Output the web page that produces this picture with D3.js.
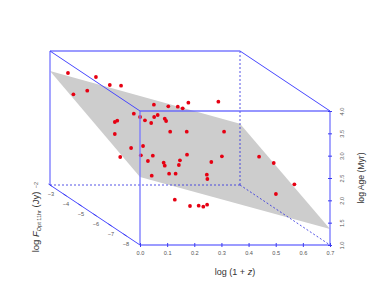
<!DOCTYPE html>
<html><head><meta charset="utf-8">
<script src="https://cdn.jsdelivr.net/npm/d3@7"></script>
<style>html,body{margin:0;padding:0;background:#fff}svg{display:block}text{font-family:"Liberation Sans",Arial,sans-serif}</style>
</head><body><svg id="c" width="374" height="307"></svg>
<script>
const redshiftTicks=[0,0.1,0.2,0.3,0.4,0.5,0.6,0.7];
const ageTicks=[1,1.5,2,2.5,3,3.5,4];
const fluxTicks=[-3,-4,-5,-6,-7,-8];
const planeRedshift=[0,0.7,0.7,0];
const planeFlux=[-3,-3,-9,-9];
const planeAge=[3.55,2.37,1.36,2.52];
const ptRedshift=[.011,.114,.165,.031,.082,.096,.217,.270,.305,.323,.344,.143,.166,.184,.207,.218,.231,.257,.262,.082,.073,.073,.277,.338,.133,.177,.169,.213,.093,.195,.253,.257,.313,.309,.339,.209,.273,.297,.412,.414,.294,.350,.382,.399,.413,.344,.365,.357,.318,.494,.548,.624,.556];
const ptAge=[3.731,3.642,3.463,3.254,3.335,3.895,3.469,3.434,3.425,3.389,3.514,3.268,3.194,3.120,3.060,3.194,3.239,3.156,3.104,3.111,3.082,2.813,2.865,2.865,2.500,2.545,2.337,2.328,2.299,2.209,2.171,2.104,2.225,2.119,2.350,1.880,1.925,1.925,1.902,1.806,1.343,1.201,1.208,1.186,1.231,3.984,3.313,2.762,2.634,2.753,2.612,2.135,1.918];
const ptFlux=[-4,-4,-4,-4,-4,-6,-6,-6,-6,-6,-6,-6,-6,-6,-6,-6,-6,-6,-6,-6,-6,-6,-6,-6,-6,-6,-6,-6,-6,-6,-6,-6,-6,-6,-6,-6,-6,-6,-6,-6,-6,-6,-6,-6,-6,-8,-8,-8,-8,-8,-8,-8,-8];

const svg=d3.select("#c");
const xS=d3.scaleLinear().domain([0,0.7]).range([140,330]);
const yS=d3.scaleLinear().domain([1,4]).range([245,111]);
const dx=d3.scaleLinear().domain([-9,-3]).range([0,-90]);
const dy=d3.scaleLinear().domain([-9,-3]).range([0,-60]);
const P=(r,a,f)=>[xS(r)+dx(f),yS(a)+dy(f)];
const blue="#4a4aff", tickCol="#555";

// fitted plane
svg.append("path").attr("fill","#cdcdcd")
  .attr("d",d3.line()(planeRedshift.map((r,i)=>P(r,planeAge[i],planeFlux[i])))+"Z");

const seg=(a,b,opt={})=>svg.append("line")
  .attr("x1",a[0]).attr("y1",a[1]).attr("x2",b[0]).attr("y2",b[1])
  .attr("stroke",opt.c||blue).attr("stroke-width",opt.w||1)
  .attr("stroke-opacity",opt.o==null?1:opt.o)
  .attr("stroke-dasharray",opt.dash||null);
const [x0,x1]=xS.domain(),[a0,a1]=yS.domain(),[f0,f1]=dx.domain();

// hidden edges
const dash={dash:"2,2",w:0.8,c:"#2a2ae0"};
seg(P(x0,a0,f1),P(x1,a0,f1),dash);
seg(P(x1,a0,f1),P(x1,a1,f1),dash);
seg(P(x1,a0,f1),P(x1,a0,f0),dash);

// points
svg.append("g").selectAll("circle").data(ptRedshift).join("circle")
  .attr("cx",(d,i)=>P(d,ptAge[i],ptFlux[i])[0])
  .attr("cy",(d,i)=>P(d,ptAge[i],ptFlux[i])[1])
  .attr("r",1.9).attr("fill","#e60012");

// visible edges
const thick={w:1.8,c:"#7a7aff",o:.75};
seg(P(x0,a1,f1),P(x1,a1,f1),thick);
seg(P(x0,a0,f1),P(x0,a1,f1),thick);
seg(P(x0,a0,f0),P(x0,a1,f0),thick);
seg(P(x1,a0,f0),P(x1,a1,f0),thick);
seg(P(x0,a0,f0),P(x1,a0,f0),thick);
seg(P(x0,a1,f0),P(x1,a1,f0),{w:1.5,c:"#5a5aff",o:.85});
const thin={w:1,c:"#4848ff"};
seg(P(x0,a1,f1),P(x0,a1,f0),thin);
seg(P(x1,a1,f1),P(x1,a1,f0),thin);
seg(P(x0,a0,f1),P(x0,a0,f0),thin);

// axes
const axX=svg.append("g").attr("transform","translate(0,245)")
  .call(d3.axisBottom(xS).tickValues(redshiftTicks).tickFormat(d3.format(".1f")).tickSize(2).tickPadding(5));
const axA=svg.append("g").attr("transform","translate(330,0)")
  .call(d3.axisRight(yS).tickValues(ageTicks).tickFormat(d3.format(".1f")).tickSize(2));
[axX,axA].forEach(g=>{
  g.select(".domain").remove();
  g.selectAll("line").attr("stroke","#3c3cf0").attr("y1",g===axX?-2:null).attr("x1",g===axA?-2:null);
  g.selectAll("text").attr("font-size",5.6).attr("fill",tickCol);
});
axX.selectAll("text").attr("y",6);
axA.selectAll("text").attr("x",0).attr("dy",0).attr("text-anchor","middle")
  .attr("transform","translate(14,0) rotate(-90)");

svg.append("g").selectAll("line").data(fluxTicks).join("line")
  .attr("x1",f=>P(x0,a0,f)[0]-1.5).attr("y1",f=>P(x0,a0,f)[1]-1)
  .attr("x2",f=>P(x0,a0,f)[0]+1.5).attr("y2",f=>P(x0,a0,f)[1]+1)
  .attr("stroke","#3c3cf0");
svg.append("g").selectAll("text").data(fluxTicks).join("text")
  .attr("x",f=>P(x0,a0,f)[0]+1).attr("y",f=>P(x0,a0,f)[1]+11)
  .attr("text-anchor","middle").attr("font-size",5.6).attr("fill",tickCol)
  .text(f=>"\u2212"+Math.abs(f));
svg.append("text").attr("transform","translate(38,185) rotate(-90)")
  .attr("text-anchor","middle").attr("font-size",5.6).attr("fill",tickCol).text("\u22122");

// titles
const xT=svg.append("text").attr("x",235).attr("y",275).attr("text-anchor","middle")
  .attr("font-size",9).attr("fill","#333");
xT.append("tspan").text("log (1 + ");
xT.append("tspan").attr("font-style","italic").text("z");
xT.append("tspan").text(")");
svg.append("text").attr("transform","translate(364,178) rotate(-90)").attr("text-anchor","middle")
  .attr("font-size",8.6).attr("fill","#333").text("log Age (Myr)");
const yT=svg.append("text").attr("transform","translate(39,222) rotate(-90)").attr("text-anchor","middle")
  .attr("font-size",9.5).attr("fill","#333");
yT.append("tspan").text("log ");
yT.append("tspan").attr("font-style","italic").text("F");
yT.append("tspan").attr("font-size",5.5).attr("dy",1.5).text("Opt 11hr");
yT.append("tspan").attr("dy",-1.5).text(" (Jy)");
</script></body></html>
